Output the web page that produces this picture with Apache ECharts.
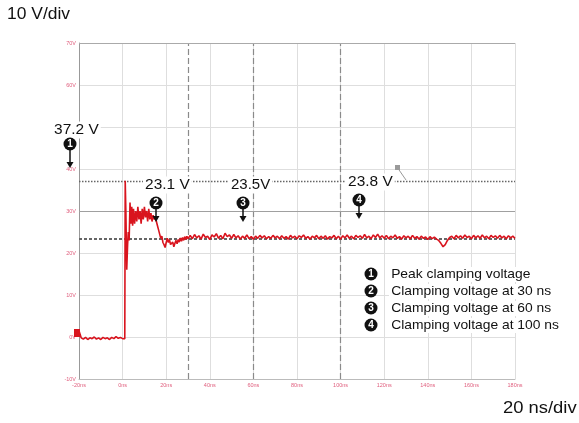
<!DOCTYPE html>
<html><head><meta charset="utf-8">
<script src="https://cdn.jsdelivr.net/npm/echarts@6.0.0/dist/echarts.min.js"></script>
<style>html,body{margin:0;padding:0;background:#fff}#c{width:579px;height:423px}</style>
</head><body><div id="c"></div>
<script>
// ---- data ----
const traceTimeNs = [
 -20,-19,-18,-17,-16,-15,-14,-13,-12,-11,-10,-9,-8,-7,-6,-5,-4,-3,-2,-1,0,0.5,1,
 1.2,1.5,1.9,2.3,2.6,3,3.4,3.8,4.2,4.6,
 5,5.5,6,6.5,7,7.5,8,8.5,9,9.5,10,10.5,11,11.5,12,12.5,13,13.5,14,14.5,15,15.5,16,16.5,17,17.5,
 18,18.5,19,19.5,20,20.5,21,21.5,22,22.5,23,23.5,24,24.5,25,25.5,26,26.5,27,27.5,28,28.5,29,29.5,30,
 31,32,33,34,35,36,37,38,39,40,41,42,43,44,45,46,47,48,49,50,
 51,52,53,54,55,56,57,58,59,60,61,62,63,64,65,66,67,68,69,70,
 71,72,73,74,75,76,77,78,79,80,81,82,83,84,85,86,87,88,89,90,
 91,92,93,94,95,96,97,98,99,100,101,102,103,104,105,106,107,108,109,110,
 111,112,113,114,115,116,117,118,119,120,121,122,123,124,125,126,127,128,129,130,
 131,132,133,134,135,136,137,138,139,140,141,142,143,144,145,146,147,148,149,150,
 151,152,153,154,155,156,157,158,159,160,161,162,163,164,165,166,167,168,169,170,
 171,172,173,174,175,176,177,178,179,180
];
const traceVolt = [
 1.5,-0.2,-0.5,-0.1,-0.6,-0.2,-0.4,0.0,-0.5,-0.2,-0.6,-0.1,-0.4,-0.2,-0.6,-0.1,-0.4,0.1,-0.3,-0.1,-0.4,-0.1,-0.4,
 37.2,30,16,22,25,23,32,27,31,26.5,
 30.5,27,30,27.5,31,28,30,27,30.5,28,31,28.5,30,27.5,30.5,28,29.5,27.5,29,28,28.5,27.5,26.5,25.5,24.5,23.5,
 24,22.5,22,21.3,22.5,23.5,22.5,23.2,22,21.7,22.6,21.5,22.3,23,22.2,23.2,22.6,23.6,22.8,23.7,23.0,23.9,23.2,24.0,23.4,
 24.2,23.4,24.4,23.6,24.1,23.3,24.5,23.7,24.0,23.2,24.3,23.8,24.6,23.5,24.2,23.4,24.7,23.9,24.3,23.5,
 24.4,23.6,24.1,23.3,24.0,23.5,24.3,23.4,23.9,23.3,24.0,23.5,24.2,23.6,24.1,23.4,23.9,23.5,24.2,23.6,
 24.0,23.4,24.1,23.5,23.9,23.3,24.2,23.6,24.0,23.4,24.1,23.7,24.3,23.5,23.9,23.3,24.0,23.6,24.2,23.4,
 24.0,23.5,24.1,23.3,23.9,23.6,24.2,23.4,24.0,23.3,24.1,23.6,24.3,23.5,24.0,23.4,24.2,23.7,24.1,23.5,
 24.4,23.6,24.0,23.4,24.3,23.7,24.5,23.6,24.1,23.5,24.2,23.4,24.0,23.6,24.3,23.5,23.9,23.3,24.1,23.6,
 24.0,23.4,24.2,23.5,23.9,23.3,24.0,23.5,23.8,23.2,23.9,23.4,23.8,23.3,23.0,22.3,21.5,22.0,23.0,23.7,
 24.0,23.4,24.2,23.6,24.1,23.5,24.3,23.7,24.0,23.4,24.2,23.6,24.1,23.5,24.3,23.6,24.0,23.4,24.2,23.7,
 24.1,23.5,24.2,23.6,24.0,23.4,24.1,23.6,24.0,23.5
];
const markerTimesNs = [30, 60, 100];
const peakLevelV = 37.2;
const triggerLevelV = 30;
const clampRefV = 23.5;
const annotationTexts = ['37.2 V', '23.1 V', '23.5V', '23.8 V'];
const legendTexts = ['Peak clamping voltage', 'Clamping voltage at 30 ns', 'Clamping voltage at 60 ns', 'Clamping voltage at 100 ns'];
const yUnitText = '10 V/div';
const xUnitText = '20 ns/div';

// ---- chart ----
const FONT = '"Liberation Sans", Arial, sans-serif';
const chart = echarts.init(document.getElementById('c'), null, {renderer: 'canvas'});

function txt(t, x, y, size, sx, bg) {
  return {type: 'text', x: x, y: y, scaleX: sx || 1, z: 100,
    style: {text: t, font: size + 'px ' + FONT, fill: '#111',
      textAlign: 'left', textVerticalAlign: 'middle', align: 'left', verticalAlign: 'middle',
      backgroundColor: bg || 'transparent', padding: bg ? [1, 2, 1, 2] : 0}};
}
function badge(n, cx, cy) {
  return {type: 'group', x: cx, y: cy, z: 101, children: [
    {type: 'circle', shape: {cx: 0, cy: 0, r: 6.5}, style: {fill: '#111'}, z: 101},
    {type: 'text', x: 0, y: 0.5, z: 102, style: {text: String(n), font: 'bold 10px ' + FONT, fill: '#fff',
      textAlign: 'center', textVerticalAlign: 'middle', align: 'center', verticalAlign: 'middle'}}
  ]};
}
function arrow(x, y0, tip) {
  return [
    {type: 'line', z: 101, shape: {x1: x, y1: y0, x2: x, y2: tip - 5}, style: {stroke: '#111', lineWidth: 1.5}},
    {type: 'polygon', z: 101, shape: {points: [[x - 3.5, tip - 6], [x + 3.5, tip - 6], [x, tip]]}, style: {fill: '#111'}}
  ];
}

const graphics = [];
graphics.push(txt(yUnitText, 7, 15, 16, 1.09));
graphics.push(txt(xUnitText, 503, 409, 16, 1.15));
// annotations
graphics.push(txt(annotationTexts[0], 52, 130, 15, 1.03, '#fff'));
graphics.push(txt(annotationTexts[1], 143, 185, 15, 1.03, '#fff'));
graphics.push(txt(annotationTexts[2], 229, 185, 15, 1.0, '#fff'));
graphics.push(txt(annotationTexts[3], 346, 182, 15, 1.03, '#fff'));
const badgePos = [[70, 144, 168], [156, 203, 222], [243, 203, 222], [359, 200, 219]];
badgePos.forEach((p, i) => {
  graphics.push(badge(i + 1, p[0], p[1]));
  arrow(p[0], p[1] + 6, p[2]).forEach(g => graphics.push(g));
});
// legend
const legY = [274, 291, 308, 325];
legendTexts.forEach((t, i) => {
  graphics.push(badge(i + 1, 371, legY[i]));
  graphics.push(txt(t, 389, legY[i] + 0.5, 13, 1.065, '#fff'));
});
// scope marker icons
graphics.push({type: 'line', z: 50, shape: {x1: 397, y1: 167, x2: 406, y2: 180}, style: {stroke: '#999', lineWidth: 1}});
graphics.push({type: 'rect', z: 51, shape: {x: 395, y: 165, width: 5, height: 5}, style: {fill: '#9a9a9a'}});
graphics.push({type: 'rect', z: 51, shape: {x: 74, y: 329, width: 6, height: 8}, style: {fill: '#d9141e'}});

const refLines = [];
markerTimesNs.forEach(t => refLines.push({xAxis: t, lineStyle: {color: '#8a8a8a', width: 1.2, type: [6, 3]}}));
refLines.push({yAxis: peakLevelV, lineStyle: {color: '#666', width: 1.3, type: [1.5, 1.5]}});
refLines.push({yAxis: triggerLevelV, lineStyle: {color: '#a0a0a0', width: 1, type: 'solid'}});
refLines.push({yAxis: clampRefV, lineStyle: {color: '#666', width: 2, type: [3, 2]}});
refLines.push({yAxis: 70, lineStyle: {color: '#aaa', width: 1, type: 'solid'}});

chart.setOption({
  animation: false,
  backgroundColor: '#fff',
  grid: {left: 79, right: 64, top: 43, bottom: 44, containLabel: false},
  xAxis: {type: 'value', min: -20, max: 180, interval: 20,
    axisLine: {show: true, onZero: false, lineStyle: {color: '#bbb', width: 1}},
    axisTick: {show: false},
    axisLabel: {fontSize: 5.5, color: '#e0607f', formatter: '{value}ns', margin: 3, fontFamily: FONT},
    splitLine: {show: true, lineStyle: {color: '#dedede', width: 1}}},
  yAxis: {type: 'value', min: -10, max: 70, interval: 10,
    axisLine: {show: true, onZero: false, lineStyle: {color: '#999', width: 1}},
    axisTick: {show: false},
    axisLabel: {fontSize: 5.5, color: '#e0607f', formatter: '{value}V', margin: 3, fontFamily: FONT},
    splitLine: {show: true, lineStyle: {color: '#dedede', width: 1}}},
  series: [
    {type: 'line', data: [], z: 1, silent: true,
      markLine: {silent: true, symbol: 'none', label: {show: false}, animation: false, data: refLines}},
    {type: 'line', z: 5, silent: true, showSymbol: false, symbol: 'none',
      data: traceTimeNs.map((t, i) => [t, traceVolt[i]]),
      lineStyle: {color: '#d9141e', width: 1.6}}
  ],
  graphic: graphics
});
</script>
</body></html>
